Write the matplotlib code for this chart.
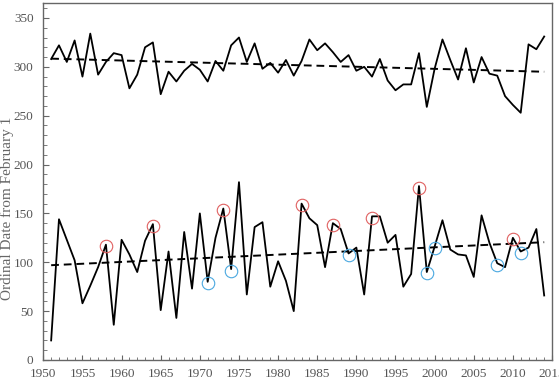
import numpy as np
import matplotlib
matplotlib.use("Agg")
import matplotlib.pyplot as plt
from matplotlib.ticker import MultipleLocator

# years 1951-2014
years = np.arange(1951, 2015)

# upper series (ordinal date from Feb 1)
upper = [308, 322, 305, 327, 290, 334, 292, 305, 314, 312,
         278, 292, 320, 325, 272, 295, 285, 296, 303, 297,
         285, 306, 296, 322, 330, 305, 324, 298, 304, 294,
         307, 291, 306, 328, 317, 324, 315, 305, 312, 296,
         300, 290, 308, 286, 276, 282, 282, 314, 259, 298,
         328, 307, 287, 319, 284, 310, 293, 291, 270, 261,
         253, 323, 318, 331]

# lower series
lower = [20, 144, 123, 102, 58, 76, 95, 118, 36, 123,
         108, 90, 122, 139, 51, 111, 43, 131, 73, 150,
         80, 125, 155, 93, 182, 67, 136, 141, 75, 101,
         81, 50, 160, 145, 138, 95, 140, 134, 109, 115,
         67, 147, 147, 120, 128, 75, 88, 178, 90, 116,
         143, 113, 108, 107, 85, 148, 120, 99, 95, 125,
         111, 115, 134, 66]

# highlighted years
red_years = [1958, 1964, 1973, 1983, 1987, 1992, 1998, 2010]
blue_years = [1971, 1974, 1989, 1999, 2000, 2008, 2011]

upper = np.array(upper)
lower = np.array(lower)

fig = plt.figure(figsize=(5.59, 3.85), dpi=100)
ax = fig.add_axes([0.0775, 0.065, 0.91, 0.9264])

ax.plot(years, upper, color='black', lw=1.3)
ax.plot(years, lower, color='black', lw=1.3)

# linear trends
for s in (upper, lower):
    p = np.polyfit(years, s, 1)
    ax.plot(years, np.polyval(p, years), color='black', lw=1.4, ls=(0, (4, 2.5)))

ry = np.array(red_years)
by = np.array(blue_years)
ax.plot(ry, lower[ry - 1951] - 1.5, 'o', ms=9, mfc='none', mec='#e06060', mew=0.8)
ax.plot(by, lower[by - 1951] - 1.5, 'o', ms=9, mfc='none', mec='#4aa8e0', mew=0.8)

ax.set_xlim(1950, 2015)
ax.set_ylim(0, 365)
ax.xaxis.set_major_locator(MultipleLocator(5))
ax.xaxis.set_minor_locator(MultipleLocator(1))
ax.yaxis.set_major_locator(MultipleLocator(50))
ax.yaxis.set_minor_locator(MultipleLocator(10))

grey = '#666666'
ax.tick_params(which='both', direction='in', colors=grey, labelcolor='#555555',
               labelsize=9.5)
ax.tick_params(axis='y', which='major', length=4, pad=7)
ax.tick_params(axis='y', which='minor', length=3)
ax.tick_params(axis='x', which='major', length=3.5, pad=6)
ax.tick_params(axis='x', which='minor', length=2)
for lab in ax.get_xticklabels() + ax.get_yticklabels():
    lab.set_family('Liberation Serif')
for sp in ax.spines.values():
    sp.set_color(grey)
    sp.set_linewidth(1.0)

fig.text(0.0135, 0.46, 'Ordinal Date from February 1', rotation=90,
         family='Liberation Serif', fontsize=11, color='#666666',
         ha='center', va='center')

fig.savefig('out.png', dpi=100)
